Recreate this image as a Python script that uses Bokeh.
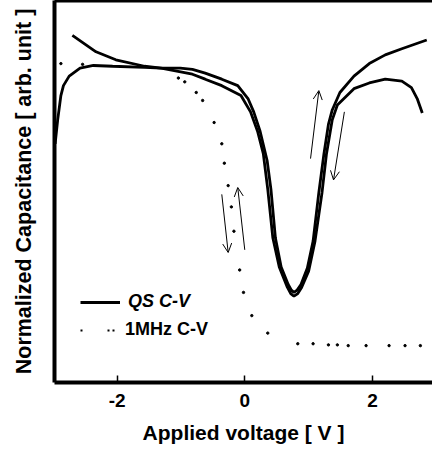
from bokeh.plotting import figure
from bokeh.models import (Range1d, LinearAxis, Legend, LegendItem, Arrow,
                          OpenHead, FixedTicker)
from bokeh.embed import file_html
from bokeh.resources import INLINE

# ---- data ----
# QS C-V, sweep 1 (starts high at the left edge, outer branch in the dip)
qs1_v = [-2.70, -2.33, -2.02, -1.57, -1.31, -0.82, -0.62, -0.36, -0.06, 0.09,
         0.20, 0.29, 0.36, 0.44, 0.54, 0.66, 0.72, 0.77, 0.83, 0.89, 1.00,
         1.10, 1.21, 1.28, 1.37, 1.45, 1.71, 1.95, 2.20, 2.46, 2.61, 2.70, 2.78]
qs1_c = [0.913, 0.870, 0.849, 0.832, 0.827, 0.811, 0.798, 0.781, 0.755, 0.712,
         0.661, 0.602, 0.508, 0.380, 0.304, 0.253, 0.234, 0.227, 0.234, 0.250,
         0.293, 0.372, 0.500, 0.602, 0.691, 0.730, 0.773, 0.788, 0.798, 0.793,
         0.776, 0.747, 0.709]
# QS C-V, sweep 2 (starts low at the left edge, inner branch in the dip)
qs2_v = [-2.97, -2.93, -2.88, -2.84, -2.75, -2.58, -2.37, -2.07, -1.57, -1.31,
         -1.01, -0.82, -0.62, -0.36, -0.11, 0.05, 0.14, 0.24, 0.35, 0.41,
         0.48, 0.57, 0.68, 0.73, 0.77, 0.82, 0.88, 0.98, 1.07, 1.16, 1.24,
         1.31, 1.37, 1.49, 1.71, 1.95, 2.20, 2.46, 2.85]
qs2_c = [0.628, 0.691, 0.755, 0.781, 0.806, 0.827, 0.834, 0.832, 0.829, 0.827,
         0.827, 0.824, 0.814, 0.798, 0.781, 0.747, 0.712, 0.661, 0.584, 0.508,
         0.380, 0.304, 0.258, 0.243, 0.237, 0.243, 0.258, 0.301, 0.372, 0.500,
         0.602, 0.679, 0.717, 0.763, 0.806, 0.839, 0.862, 0.878, 0.901]
# 1 MHz C-V (dotted)
hf_v = [-2.88, -2.54, -1.04, -0.94, -0.76, -0.66, -0.48, -0.36, -0.32, -0.26,
        -0.21, -0.17, -0.08, -0.02, 0.11, 0.36, 0.83, 1.07, 1.31, 1.45, 1.62,
        1.90, 2.26, 2.51, 2.75]
hf_c = [0.839, 0.837, 0.801, 0.791, 0.763, 0.742, 0.684, 0.628, 0.577, 0.518,
        0.462, 0.398, 0.296, 0.237, 0.176, 0.130, 0.102, 0.102, 0.099, 0.099,
        0.097, 0.097, 0.097, 0.097, 0.097]
# sweep-direction arrows: (v_start, c_start, v_end, c_end)
arrows = [(-0.36, 0.495, -0.26, 0.342),
          (0.00, 0.349, -0.11, 0.513),
          (1.03, 0.589, 1.16, 0.768),
          (1.56, 0.712, 1.39, 0.533)]
x_ticks = [-2, 0, 2]
x_tick_labels = {-2: "-2", 0: "0", 2: "2"}
x_label = "Applied voltage [ V ]"
y_label = "Normalized Capacitance [ arb. unit ]"
legend_qs = "QS C-V"
legend_hf = "1MHz C-V"

FONT = "Liberation Sans"

p = figure(width=432, height=452, x_range=Range1d(-2.98, 2.94),
           y_range=Range1d(0, 1.005), output_backend="svg",
           toolbar_location=None, min_border_left=54, min_border_right=0,
           min_border_top=0, min_border_bottom=70)
p.grid.visible = False
p.outline_line_color = None

# axes
xa = p.xaxis[0]
xa.ticker = FixedTicker(ticks=x_ticks)
xa.major_label_overrides = x_tick_labels
xa.minor_tick_line_color = None
xa.major_tick_in = 7
xa.major_tick_out = 0
xa.major_tick_line_width = 1.5
xa.axis_line_width = 4
xa.major_label_text_font = FONT
xa.major_label_text_font_style = "bold"
xa.major_label_text_font_size = "19px"
xa.major_label_text_color = "black"
xa.major_label_standoff = 11
xa.axis_label = x_label
xa.axis_label_text_font = FONT
xa.axis_label_text_font_style = "bold"
xa.axis_label_text_font_size = "21px"
xa.axis_label_text_color = "black"
xa.axis_label_standoff = 11

ya = p.yaxis[0]
ya.ticker = FixedTicker(ticks=[])
ya.minor_tick_line_color = None
ya.major_tick_out = 0
ya.major_tick_in = 0
ya.major_label_text_font_size = "0px"
ya.major_label_standoff = 0
ya.axis_line_width = 4
ya.axis_label = y_label
ya.axis_label_text_font = FONT
ya.axis_label_text_font_style = "bold"
ya.axis_label_text_font_size = "21.5px"
ya.axis_label_text_color = "black"
ya.axis_label_standoff = 19

top = LinearAxis(ticker=FixedTicker(ticks=[]), major_label_text_font_size="0px",
                 major_tick_out=0, major_tick_in=0, minor_tick_line_color=None,
                 major_label_standoff=0, axis_line_width=4)
p.add_layout(top, "above")

# curves
r1 = p.line(qs1_v, qs1_c, line_color="black", line_width=2.8)
r2 = p.line(qs2_v, qs2_c, line_color="black", line_width=2.8)
p.scatter(hf_v, hf_c, size=2.4, color="black")

for (v0, c0, v1, c1) in arrows:
    p.add_layout(Arrow(end=OpenHead(size=9, line_width=1), x_start=v0,
                       y_start=c0, x_end=v1, y_end=c1, line_width=1))

# legends
dummy_hf = p.line([float("nan")], [float("nan")], line_color="black",
                  line_width=2.2, line_dash="2 25 2 3 2 6")
leg1 = Legend(items=[LegendItem(label=legend_qs, renderers=[r1])],
              location=(26, 70), glyph_width=40, label_standoff=8,
              padding=0, margin=0, spacing=0, border_line_color=None,
              background_fill_alpha=0, label_text_font=FONT,
              label_text_font_style="bold italic", label_text_color="black",
              label_text_font_size="18px")
leg2 = Legend(items=[LegendItem(label=legend_hf, renderers=[dummy_hf])],
              location=(26, 42), glyph_width=40, label_standoff=5,
              padding=0, margin=0, spacing=0, border_line_color=None,
              background_fill_alpha=0, label_text_font=FONT,
              label_text_font_style="bold", label_text_color="black",
              label_text_font_size="18px")
p.add_layout(leg1, "center")
p.add_layout(leg2, "center")

open("out.html", "w").write(file_html(p, INLINE))
